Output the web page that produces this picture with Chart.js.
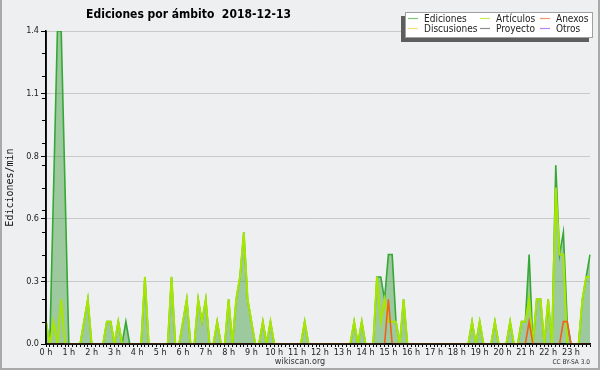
<!DOCTYPE html>
<html>
<head>
<meta charset="utf-8">
<title>Ediciones por ámbito 2018-12-13</title>
<script src="https://cdn.jsdelivr.net/npm/chart.js@4/dist/chart.umd.min.js"></script>
<style>
  html, body { margin: 0; padding: 0; background: #eeeff0; }
  #wrap { width: 600px; height: 370px; }
</style>
</head>
<body>
<div id="wrap"><canvas id="chart" width="600" height="370"></canvas></div>
<script>
// ---- Data: one value per 10 minutes (edits / min), 00:00 .. 23:50 ----
const hours = ['0 h', '1 h', '2 h', '3 h', '4 h', '5 h', '6 h', '7 h', '8 h', '9 h', '10 h', '11 h',
  '12 h', '13 h', '14 h', '15 h', '16 h', '17 h', '18 h', '19 h', '20 h', '21 h', '22 h', '23 h'];

const ediciones = [
  0.1, 0, 0.7, 1.4, 1.4, 0.7, 0, 0, 0, 0, 0.1, 0.2,
  0, 0, 0, 0, 0.1, 0.1, 0, 0.1, 0, 0.1, 0, 0,
  0, 0, 0.3, 0, 0, 0, 0, 0, 0, 0.3, 0, 0,
  0.1, 0.2, 0, 0, 0.2, 0.1, 0.2, 0, 0, 0.1, 0, 0,
  0.2, 0, 0.2, 0.3, 0.5, 0.2, 0.1, 0, 0, 0.1, 0, 0.1,
  0, 0, 0, 0, 0, 0, 0, 0, 0.1, 0, 0, 0,
  0, 0, 0, 0, 0, 0, 0, 0, 0, 0.1, 0, 0.1,
  0, 0, 0, 0.3, 0.3, 0.2, 0.4, 0.4, 0.1, 0, 0.2, 0,
  0, 0, 0, 0, 0, 0, 0, 0, 0, 0, 0, 0,
  0, 0, 0, 0, 0.1, 0, 0.1, 0, 0, 0, 0.1, 0,
  0, 0, 0.1, 0, 0, 0.1, 0.1, 0.4, 0, 0.2, 0.2, 0,
  0.2, 0, 0.8, 0.4, 0.5, 0.1, 0, 0, 0, 0.2, 0.3, 0.4
];

const articulos = [
  0.1, 0, 0.1, 0, 0.2, 0, 0, 0, 0, 0, 0.1, 0.2,
  0, 0, 0, 0, 0.1, 0.1, 0, 0.1, 0, 0, 0, 0,
  0, 0, 0.3, 0, 0, 0, 0, 0, 0, 0.3, 0, 0,
  0.1, 0.2, 0, 0, 0.2, 0.1, 0.2, 0, 0, 0.1, 0, 0,
  0.2, 0, 0.2, 0.3, 0.5, 0.2, 0.1, 0, 0, 0.1, 0, 0.1,
  0, 0, 0, 0, 0, 0, 0, 0, 0.1, 0, 0, 0,
  0, 0, 0, 0, 0, 0, 0, 0, 0, 0.1, 0, 0.1,
  0, 0, 0, 0.3, 0.1, 0.2, 0.1, 0.1, 0.1, 0, 0.2, 0,
  0, 0, 0, 0, 0, 0, 0, 0, 0, 0, 0, 0,
  0, 0, 0, 0, 0.1, 0, 0.1, 0, 0, 0, 0.1, 0,
  0, 0, 0.1, 0, 0, 0.1, 0.1, 0.2, 0, 0.2, 0.2, 0,
  0.2, 0, 0.7, 0.4, 0.4, 0, 0, 0, 0, 0.2, 0.3, 0.3
];

const anexos = [
  0, 0, 0, 0, 0, 0, 0, 0, 0, 0, 0, 0,
  0, 0, 0, 0, 0, 0, 0, 0, 0, 0, 0, 0,
  0, 0, 0, 0, 0, 0, 0, 0, 0, 0, 0, 0,
  0, 0, 0, 0, 0, 0, 0, 0, 0, 0, 0, 0,
  0, 0, 0, 0, 0, 0, 0, 0, 0, 0, 0, 0,
  0, 0, 0, 0, 0, 0, 0, 0, 0, 0, 0, 0,
  0, 0, 0, 0, 0, 0, 0, 0, 0, 0, 0, 0,
  0, 0, 0, 0, 0, 0, 0.2, 0, 0, 0, 0, 0,
  0, 0, 0, 0, 0, 0, 0, 0, 0, 0, 0, 0,
  0, 0, 0, 0, 0, 0, 0, 0, 0, 0, 0, 0,
  0, 0, 0, 0, 0, 0, 0, 0.1, 0, 0, 0, 0,
  0, 0, 0, 0, 0.1, 0.1, 0, 0, 0, 0, 0, 0
];

// nothing visible for these in the picture (legend only)
const discusiones = [];
const proyecto = [];
const otros = [];

const yTicks = [0, 0.28, 0.56, 0.84, 1.12, 1.4];
const yTickLabels = ['0.0', '0.3', '0.6', '0.8', '1.1', '1.4'];
const yMinorTicks = [0.1, 0.2, 0.3, 0.4, 0.5, 0.6, 0.7, 0.8, 0.9, 1.0, 1.1, 1.2, 1.3];

const slots = ediciones.map((_, i) => i);

const FONT = "'DejaVu Sans Condensed', 'DejaVu Sans', sans-serif";
const BG = '#eeeff0';

// ---- Extra drawing: background, axes on top, minor ticks, texts, legend ----
const decor = {
  id: 'decor',
  beforeDraw(chart) {
    const ctx = chart.ctx;
    ctx.save();
    ctx.fillStyle = BG;
    ctx.fillRect(0, 0, chart.width, chart.height);
    ctx.restore();
  },
  afterDatasetsDraw(chart) {
    const ctx = chart.ctx;
    const { left, right, top, bottom } = chart.chartArea;
    const y = chart.scales.y;
    ctx.save();
    ctx.strokeStyle = '#000';
    ctx.lineWidth = 1.5;
    ctx.beginPath();
    ctx.moveTo(left, top);
    ctx.lineTo(left, bottom);
    ctx.lineTo(right, bottom);
    ctx.stroke();
    ctx.lineWidth = 1;
    ctx.beginPath();
    yMinorTicks.forEach(v => {
      const py = Math.round(y.getPixelForValue(v)) + 0.5;
      ctx.moveTo(left - 4, py);
      ctx.lineTo(left, py);
    });
    ctx.stroke();
    ctx.restore();
  },
  afterDraw(chart) {
    const ctx = chart.ctx;
    const { top, bottom } = chart.chartArea;
    ctx.save();

    // title
    ctx.fillStyle = '#000';
    ctx.font = 'bold 12px ' + FONT;
    ctx.textAlign = 'center';
    ctx.textBaseline = 'alphabetic';
    ctx.fillText('Ediciones por ámbito  2018-12-13', 188.5, 18);

    // y axis title
    ctx.save();
    ctx.translate(10, (top + bottom) / 2);
    ctx.rotate(-Math.PI / 2);
    ctx.font = "10px 'DejaVu Sans Mono', monospace";
    ctx.textBaseline = 'middle';
    ctx.fillStyle = '#111';
    ctx.fillText('Ediciones/min', 0, 0);
    ctx.restore();

    // footer
    ctx.fillStyle = '#333';
    ctx.font = '9px ' + FONT;
    ctx.textAlign = 'center';
    ctx.fillText('wikiscan.org', 300, 364);
    ctx.font = '6.5px ' + FONT;
    ctx.textAlign = 'right';
    ctx.fillText('CC BY-SA 3.0', 590, 364);

    // legend box
    const lg = { x: 405, y: 12, w: 188, h: 26 };
    ctx.fillStyle = '#5e5e5e';
    ctx.fillRect(lg.x - 4, lg.y + 4, lg.w, lg.h);
    ctx.fillStyle = '#fff';
    ctx.fillRect(lg.x, lg.y, lg.w, lg.h);
    ctx.strokeStyle = '#a0a0a0';
    ctx.lineWidth = 1;
    ctx.strokeRect(lg.x + 0.5, lg.y + 0.5, lg.w - 1, lg.h - 1);

    const cols = [408, 480, 540];
    const rows = [18.5, 28.5];
    ctx.font = '10px ' + FONT;
    ctx.textAlign = 'left';
    ctx.textBaseline = 'middle';
    chart.data.datasets.forEach((ds, k) => {
      const cx = cols[k % 3];
      const cy = rows[Math.floor(k / 3)];
      ctx.globalAlpha = 0.65;
      ctx.strokeStyle = ds.borderColor;
      ctx.lineWidth = 1.2;
      ctx.beginPath();
      ctx.moveTo(cx, cy);
      ctx.lineTo(cx + 10, cy);
      ctx.stroke();
      ctx.globalAlpha = 1;
      ctx.fillStyle = '#222';
      ctx.fillText(ds.label, cx + 16, cy + 0.5);
    });

    // frame
    ctx.strokeStyle = '#a9a9a9';
    ctx.lineWidth = 2;
    ctx.beginPath();
    ctx.moveTo(1, 0);
    ctx.lineTo(1, chart.height - 1);
    ctx.lineTo(chart.width - 1, chart.height - 1);
    ctx.lineTo(chart.width - 1, 0);
    ctx.stroke();

    ctx.restore();
  }
};

const lineDefaults = { pointRadius: 0, borderWidth: 2, tension: 0, fill: false };

new Chart(document.getElementById('chart'), {
  type: 'line',
  data: {
    labels: slots,
    datasets: [
      { ...lineDefaults, label: 'Ediciones', data: ediciones, borderColor: '#35a835', borderWidth: 1.6,
        backgroundColor: 'rgba(0, 128, 0, 0.34)', fill: 'origin', order: 6 },
      { ...lineDefaults, label: 'Artículos', data: articulos, borderColor: '#a6e600', order: 5 },
      { ...lineDefaults, label: 'Anexos', data: anexos, borderColor: '#f0601e', borderWidth: 1.6, order: 1 },
      { ...lineDefaults, label: 'Discusiones', data: discusiones, borderColor: '#f5cc30', order: 4 },
      { ...lineDefaults, label: 'Proyecto', data: proyecto, borderColor: '#505050', order: 3 },
      { ...lineDefaults, label: 'Otros', data: otros, borderColor: '#9040e8', order: 2 }
    ]
  },
  options: {
    responsive: false,
    animation: false,
    devicePixelRatio: 1,
    layout: { padding: { top: 31, right: 10, left: 0, bottom: 0 } },
    plugins: {
      legend: { display: false },
      title: { display: false },
      tooltip: { enabled: false }
    },
    scales: {
      x: {
        type: 'category',
        offset: false,
        afterFit: s => { s.height = 26; },
        ticks: {
          autoSkip: false,
          maxRotation: 0,
          minRotation: 0,
          padding: 0,
          color: '#222',
          font: { family: FONT, size: 9 },
          callback: (v, i) => (i % 6 === 0 ? hours[i / 6] : '')
        },
        grid: { drawOnChartArea: false, tickLength: 3, color: '#000', tickColor: '#000', offset: false },
        border: { color: '#000', width: 1.5 }
      },
      y: {
        min: 0,
        max: 1.4,
        afterBuildTicks: s => { s.ticks = yTicks.map(v => ({ value: v })); },
        afterFit: s => { s.width = 46; },
        ticks: {
          padding: 2,
          color: '#222',
          font: { family: FONT, size: 9 },
          callback: (v, i) => yTickLabels[i]
        },
        grid: { color: '#c9c9c9', tickColor: '#000', tickLength: 5, lineWidth: 1 },
        border: { color: '#000', width: 1.5 }
      }
    }
  },
  plugins: [decor]
});
</script>
</body>
</html>
